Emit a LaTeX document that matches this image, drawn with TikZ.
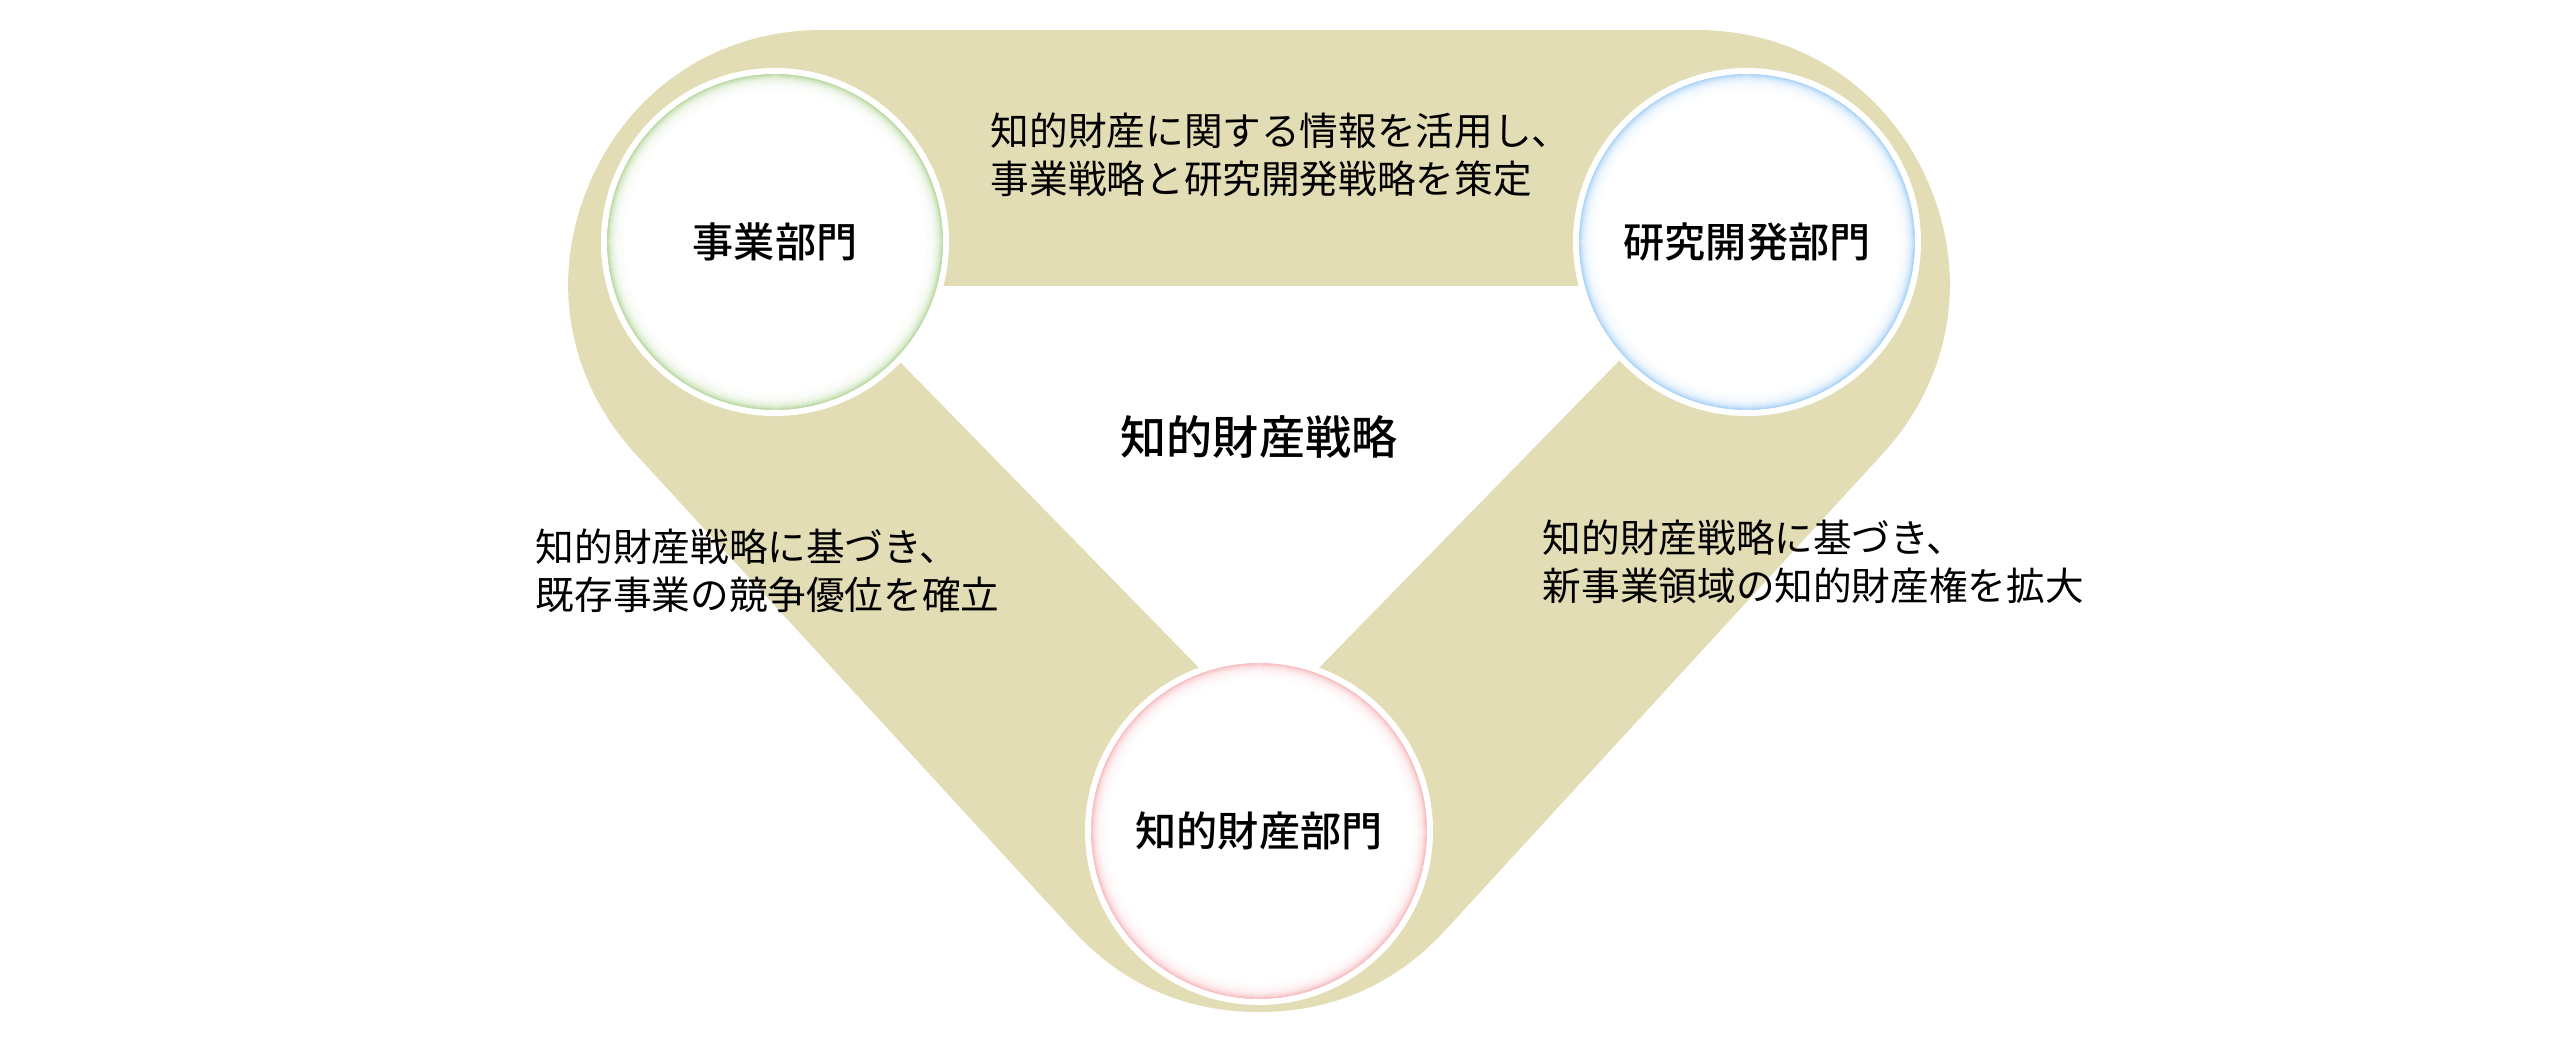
\documentclass[tikz,border=0pt]{standalone}
\usepackage{fontspec}
\setmainfont{Noto Sans CJK JP}[BoldFont={* Medium}]
\usetikzlibrary{positioning}
\definecolor{bandtan}{RGB}{227,221,182}
\definecolor{ringgreen}{RGB}{160,203,128}
\definecolor{ringblue}{RGB}{140,195,245}
\definecolor{ringpink}{RGB}{245,165,172}

\begin{document}
\begin{tikzpicture}[
  x=0.1mm, y=0.1mm,
  dept/.style={circle, minimum size=34.2mm, inner sep=0pt, fill=white, draw=white, line width=0.6mm,
    font=\fontsize{11.7}{14}\selectfont\bfseries,
    path picture={
      \foreach \k [evaluate=\k as \p using {int(90*0.8^\k)}] in {0,...,16}
        \draw[#1!\p!white, line width=0.14mm] (path picture bounding box.center) circle[radius=16.8mm-\k*0.1mm];
    }},
  note/.style={align=left, inner sep=0pt, font=\fontsize{11}{13.8}\selectfont},
]
  \useasboundingbox (0,0) rectangle (2560,1040);

  \coordinate (cornerL) at (822,757);
  \coordinate (cornerR) at (1696,757);
  \coordinate (cornerB) at (1259,281);
  \coordinate (holeL) at (826,754);
  \coordinate (holeR) at (1692,754);
  \coordinate (holeB) at (1259,311);
  \draw[bandtan, fill=bandtan, line width=50.6mm, line join=round] (cornerL) -- (cornerR) -- (cornerB) -- cycle;
  \fill[white] (holeL) -- (holeR) -- (holeB) -- cycle;

  \node[dept=ringgreen] (biz) at (775,798) {事業部門};
  \node[dept=ringblue] (rnd) at (1747,798) {研究開発部門};
  \node[dept=ringpink] (ipd) at (1259,209) {知的財産部門};

  \node[font=\fontsize{13.1}{16}\selectfont\bfseries] (ipstrat) at (1259,603) {知的財産戦略};
  \node[note, anchor=west] (topnote) at (990,885) {知的財産に関する情報を活用し、\\事業戦略と研究開発戦略を策定};
  \node[note, anchor=west] (leftnote) at (535,469) {知的財産戦略に基づき、\\既存事業の競争優位を確立};
  \node[note, anchor=west] (rightnote) at (1542,478) {知的財産戦略に基づき、\\新事業領域の知的財産権を拡大};
\end{tikzpicture}
\end{document}
